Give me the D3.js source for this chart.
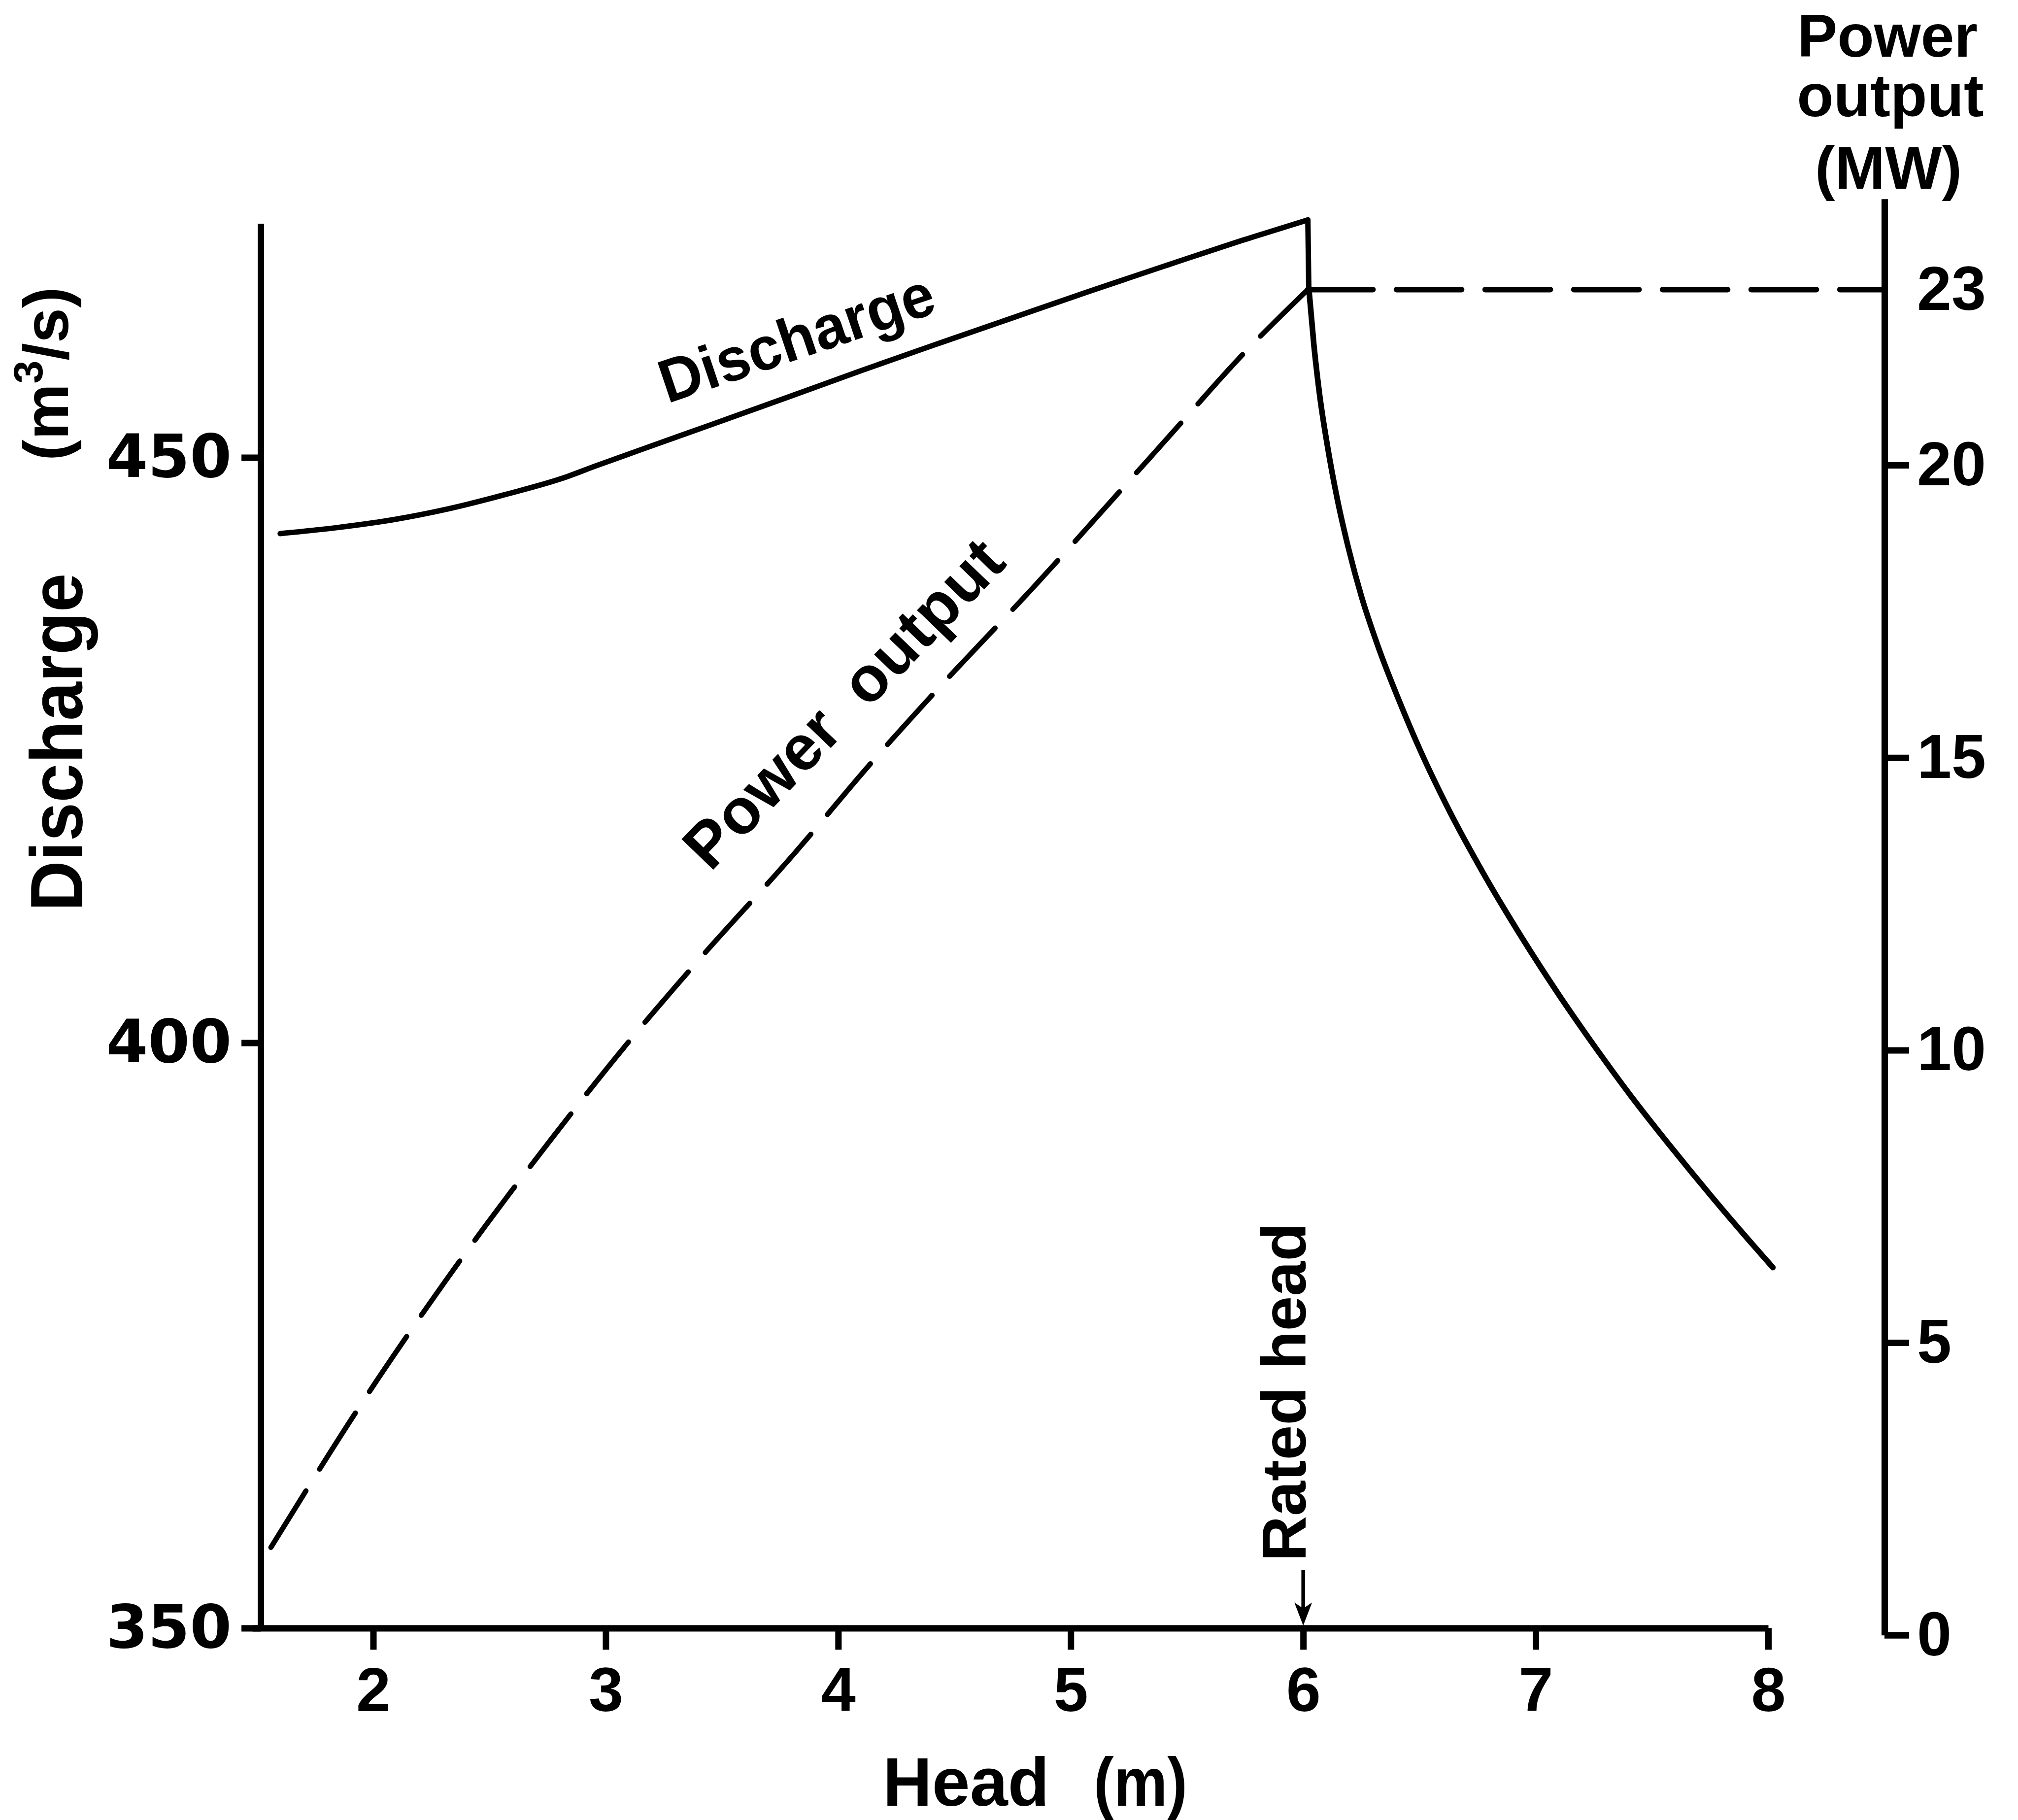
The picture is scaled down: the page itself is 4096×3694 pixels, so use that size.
<!DOCTYPE html>
<html><head><meta charset="utf-8">
<script src="https://cdn.jsdelivr.net/npm/d3@7"></script>
<style>
html,body{margin:0;padding:0;background:#fff;}
svg{display:block;}
</style></head><body>
<svg id="chart" width="4096" height="3694"></svg>
<script>
// Tick values
const headTicks = [2, 3, 4, 5, 6, 7, 8];
const flowTicks = [350, 400, 450];
const powerTicks = [0, 5, 10, 15, 20, 23];

// Discharge (m3/s) below rated head
const dischargeHead = [1.60, 1.84, 2.09, 2.32, 2.58, 2.81, 2.96, 3.17, 3.46, 3.79, 4.11, 4.44, 4.76, 5.08, 5.41, 5.73, 6.02];
const dischargeFlow = [443.5, 444.0, 444.7, 445.6, 446.9, 448.2, 449.3, 450.8, 452.85, 455.2, 457.5, 459.8, 462.0, 464.2, 466.4, 468.5, 470.3];

// Discharge (m3/s) above rated head
const highHead = [6.024, 6.046, 6.071, 6.105, 6.145, 6.194, 6.251, 6.323, 6.413, 6.503, 6.616, 6.777, 6.94, 7.103, 7.264, 7.427, 7.59, 7.751, 7.914, 8.02];
const highFlow = [464.5, 459.6, 455.3, 450.9, 446.6, 442.3, 438.1, 433.8, 429.2, 425.0, 420.3, 414.4, 409.0, 404.0, 399.4, 395.0, 390.9, 387.0, 383.2, 380.8];

// Power output (MW) up to rated head
const powerHead = [1.56, 1.99, 2.31, 2.77, 3.09, 3.38, 3.82, 4.14, 4.40, 4.86, 5.20, 5.47, 5.73, 6.02];
const powerMW = [1.5, 4.2, 6.05, 8.5, 10.1, 11.45, 13.4, 14.9, 16.05, 18.0, 19.5, 20.7, 21.85, 23.0];

const ratedHead = 6;
const ratedPower = 23;

const W = 4096, H = 3694;
const SANS = '"Liberation Sans", Arial, Helvetica, sans-serif';
const WIDE = '"DejaVu Sans", Verdana, sans-serif';

const svg = d3.select('#chart');
svg.append('rect').attr('width', W).attr('height', H).attr('fill', '#fff');

// Scales
const x = d3.scaleLinear().domain([1.48, 8]).range([512.1, 3589]);
const yQ = d3.scaleLinear().domain([350, 470]).range([3304.4, 453.4]);
const yP = d3.scaleLinear().domain([0, 24.55]).range([3318.8, 403.7]);

const AXW = 13;
const leftHead = 1.516, rightHead = 8.5;

function styleAxis(g, family, size) {
  g.selectAll('path, line').attr('stroke', '#000').attr('stroke-width', AXW).attr('fill', 'none');
  g.selectAll('text').attr('fill', '#000').attr('font-size', size)
    .style('font-family', family).style('font-weight', 'bold');
}

function label(sel) {
  return sel.style('font-family', SANS).style('font-weight', 'bold').attr('fill', '#000');
}

// Bottom axis: head
const gx = svg.append('g').attr('transform', `translate(0,${yQ(350)})`)
  .call(d3.axisBottom(x).tickValues(headTicks).tickSize(44).tickSizeOuter(0).tickPadding(35).tickFormat(d3.format('d')));
styleAxis(gx, SANS, 126);

// Left axis: discharge
const gl = svg.append('g').attr('transform', `translate(${x(leftHead)},0)`)
  .call(d3.axisLeft(yQ).tickValues(flowTicks).tickSize(39).tickSizeOuter(0).tickPadding(20).tickFormat(d3.format('d')));
styleAxis(gl, WIDE, 122);

// Right axis: power output
const gr = svg.append('g').attr('transform', `translate(${x(rightHead)},0)`)
  .call(d3.axisRight(yP).tickValues(powerTicks).tickSize(50).tickSizeOuter(0).tickPadding(16).tickFormat(d3.format('d')));
styleAxis(gr, SANS, 126);
gr.selectAll('.tick').filter(d => d === ratedPower).select('line').remove();

// Curves
const lineQ = d3.line().x(d => x(d[0])).y(d => yQ(d[1])).curve(d3.curveMonotoneX);
const lineP = d3.line().x(d => x(d[0])).y(d => yP(d[1])).curve(d3.curveMonotoneX);

const peak = [dischargeHead[dischargeHead.length - 1], dischargeFlow[dischargeFlow.length - 1]];

svg.append('path').datum(d3.zip(dischargeHead, dischargeFlow)).attr('d', lineQ)
  .attr('fill', 'none').attr('stroke', '#000').attr('stroke-width', 11).attr('stroke-linecap', 'round');
// drop at rated head, then the falling branch
svg.append('path').datum([peak, [highHead[0], highFlow[0]]])
  .attr('d', d3.line().x(d => x(d[0])).y(d => yQ(d[1])))
  .attr('fill', 'none').attr('stroke', '#000').attr('stroke-width', 11).attr('stroke-linecap', 'round');
svg.append('path').datum(d3.zip(highHead, highFlow)).attr('d', lineQ)
  .attr('fill', 'none').attr('stroke', '#000').attr('stroke-width', 11.5).attr('stroke-linecap', 'round').attr('stroke-linejoin', 'round');

// Power output: dashed, pattern fitted so both ends finish on a dash
const pPath = svg.append('path').datum(d3.zip(powerHead, powerMW)).attr('d', lineP)
  .attr('fill', 'none').attr('stroke', '#000').attr('stroke-width', 10.5).attr('stroke-linecap', 'round');
{
  const L = pPath.node().getTotalLength();
  const dash = 134, gap = 52;
  const n = Math.round((L - dash) / (dash + gap));
  const k = L / (n * (dash + gap) + dash);
  pPath.attr('stroke-dasharray', `${dash * k} ${gap * k}`);
}
svg.append('path').datum([[powerHead[powerHead.length - 1], ratedPower], [rightHead, ratedPower]])
  .attr('d', d3.line().x(d => x(d[0])).y(d => yP(d[1])))
  .attr('fill', 'none').attr('stroke', '#000').attr('stroke-width', 11.5)
  .attr('stroke-dasharray', '132 48').attr('stroke-linecap', 'round');

// Rated head marker
const ax = x(ratedHead);
const baseY = yQ(350);
svg.append('line').attr('x1', ax).attr('x2', ax).attr('y1', yQ(354.95)).attr('y2', baseY - 30)
  .attr('stroke', '#000').attr('stroke-width', 7.5);
svg.append('path').attr('d', `M${ax},${baseY - 5} L${ax - 18},${baseY - 52} L${ax},${baseY - 40} L${ax + 18},${baseY - 52} Z`)
  .attr('fill', '#000');

label(svg.append('text')).attr('transform', `translate(${x(6.011)},${yQ(355.7)}) rotate(-90)`)
  .attr('font-size', 126).attr('textLength', 687).attr('lengthAdjust', 'spacingAndGlyphs')
  .text('Rated head');

// In-plot curve labels
label(svg.append('text')).attr('transform', `translate(${x(3.265)},${yQ(454.6)}) rotate(-18.7)`)
  .attr('font-size', 124).attr('textLength', 582).attr('lengthAdjust', 'spacingAndGlyphs')
  .text('Discharge');

label(svg.append('text')).attr('transform', `translate(${x(3.45)},${yP(13.03)}) rotate(-46)`)
  .attr('font-size', 130).attr('textLength', 870).attr('lengthAdjust', 'spacing')
  .style('word-spacing', '30px')
  .text('Power output');

// Axis titles
label(svg.append('text')).attr('x', 1792).attr('y', 3665).attr('font-size', 140)
  .attr('textLength', 338).attr('lengthAdjust', 'spacingAndGlyphs').text('Head');
label(svg.append('text')).attr('x', 2220).attr('y', 3665).attr('font-size', 140)
  .attr('textLength', 190).attr('lengthAdjust', 'spacingAndGlyphs').text('(m)');

label(svg.append('text')).attr('transform', 'translate(166.7,1849.4) rotate(-90)')
  .attr('font-size', 150).attr('textLength', 686).attr('lengthAdjust', 'spacingAndGlyphs')
  .text('Discharge');

const unit = label(svg.append('text')).attr('transform', 'translate(138,935) rotate(-90)')
  .attr('font-size', 128);
unit.append('tspan').text('(m');
unit.append('tspan').attr('dy', -52).attr('font-size', 84).text('3');
unit.append('tspan').attr('dy', 52).text('/s)');

const rt = svg.append('g').attr('text-anchor', 'middle');
label(rt.append('text')).attr('x', 3831).attr('y', 115).attr('font-size', 122).text('Power');
label(rt.append('text')).attr('x', 3837).attr('y', 236).attr('font-size', 122).text('output');
label(rt.append('text')).attr('x', 3833).attr('y', 383).attr('font-size', 122).text('(MW)');
</script>
</body></html>
